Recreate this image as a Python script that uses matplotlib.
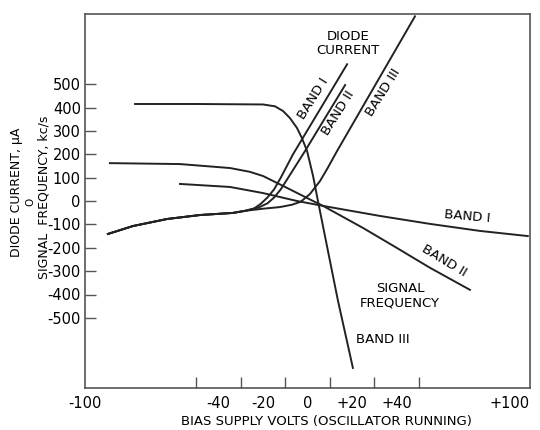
import numpy as np
import matplotlib
matplotlib.use('Agg')
import matplotlib.pyplot as plt

# Corrente do diodo: trecho comum (lado negativo) e subida de cada banda
base_v = [-89.7, -78.4, -63.1, -48.3, -33.5]
base_y = [-141, -107, -77, -60, -51]

diodo1_v = [-28, -24, -21, -18, -15, -12, -6.5, 17.8]
diodo1_y = [-42, -32, -12, 15, 50, 100, 200, 585]
diodo2_v = [-28, -22, -18, -15, -12, -8, -1.1, 16.9]
diodo2_y = [-42, -28, -10, 15, 50, 110, 214, 496]
diodo3_v = [-28, -20, -12.4, -7, -3, 1.1, 5.6, 9, 13.3, 48.3]
diodo3_y = [-42, -33, -26, -16, -3, 30, 85, 140, 214, 790]

# Frequencia do sinal
freq1_v = [-57.3, -34.8, -20, -4.7, 7, 32.6, 55.1, 77.5, 99]
freq1_y = [73, 60, 34, 0, -21, -64, -98, -128, -150]
freq2_v = [-88.8, -57.3, -34.8, -26, -20, -9.2, 2.5, 7, 24.9, 40.2, 55.1, 73]
freq2_y = [162, 158, 141, 125, 107, 56, 0, -21, -115, -201, -286, -380]
freq3_v = [-77.5, -50, -20, -14.6, -11, -7.9, -4.7, -2.5, -0.2, 2.5, 4.7, 9.2, 13.7, 18.7, 20.4]
freq3_y = [415, 415, 413, 405, 385, 355, 312, 269, 214, 107, 0, -214, -427, -641, -714]

yticks = [500, 400, 300, 200, 100, 0, -100, -200, -300, -400, -500]
xticks = [-100, -40, -20, 0, 20, 40, 100]
xtick_labels = ['-100', '-40', '-20', '0', '+20', '+40', '+100']
xminor = [-50, -40, -30, -20, -10, 0, 10, 20, 30, 40, 50]

COR = '#222222'
fig = plt.figure(figsize=(5.4, 4.3), dpi=100)
ax = fig.add_axes([85/540, 1 - 388/430, 445/540, 374/430])

for v, y in [(diodo1_v, diodo1_y), (diodo2_v, diodo2_y), (diodo3_v, diodo3_y)]:
    ax.plot(base_v + v, base_y + y, color=COR, lw=1.4)
for v, y in [(freq1_v, freq1_y), (freq2_v, freq2_y), (freq3_v, freq3_y)]:
    ax.plot(v, y, color=COR, lw=1.4)

ax.set_xlim(-100, 100)
ax.set_ylim(-800, 800)

ax.set_yticks(yticks)
ax.set_yticklabels([str(t) for t in yticks])
ax.set_xticks(xticks)
ax.set_xticklabels(xtick_labels)
ax.set_xticks(xminor, minor=True)
ax.tick_params(axis='y', direction='in', length=8, width=1, color='#555', labelsize=10.5, pad=3)
ax.tick_params(axis='x', which='major', length=0, labelsize=10.5, pad=6)
ax.tick_params(axis='x', which='minor', direction='in', length=8, width=1, color='#555')
rotulos = ax.get_xticklabels()
rotulos[-1].set_ha('right')  # +100 ficaria cortado na borda
for s in ax.spines.values():
    s.set_color('#555')
    s.set_linewidth(1.2)

fs = 9.5
ax.text(18.2, 675, 'DIODE\nCURRENT', ha='center', va='center', fontsize=fs, linespacing=1.1)
ax.text(2.5, 440, 'BAND I', ha='center', va='center', fontsize=fs, rotation=58)
ax.text(13.7, 376, 'BAND II', ha='center', va='center', fontsize=fs, rotation=58)
ax.text(33.9, 466, 'BAND III', ha='center', va='center', fontsize=fs, rotation=58)
ax.text(71.7, -68, 'BAND I', ha='center', va='center', fontsize=fs, rotation=-5)
ax.text(61.3, -256, 'BAND II', ha='center', va='center', fontsize=fs, rotation=-31)
ax.text(41.6, -406, 'SIGNAL\nFREQUENCY', ha='center', va='center', fontsize=fs, linespacing=1.1)
ax.text(33.9, -594, 'BAND III', ha='center', va='center', fontsize=fs)

fig.text(17/540, 0.553, 'DIODE CURRENT, μA', rotation=90, ha='center', va='center', fontsize=9)
fig.text(30/540, 0.530, 'O', rotation=90, ha='center', va='center', fontsize=7.5)
fig.text(44/540, 0.540, 'SIGNAL  FREQUENCY, kc/s', rotation=90, ha='center', va='center', fontsize=9)
fig.text(0.604, 0.019, 'BIAS SUPPLY VOLTS (OSCILLATOR RUNNING)', ha='center', va='center', fontsize=9.5)

fig.savefig('out.png', dpi=100)
